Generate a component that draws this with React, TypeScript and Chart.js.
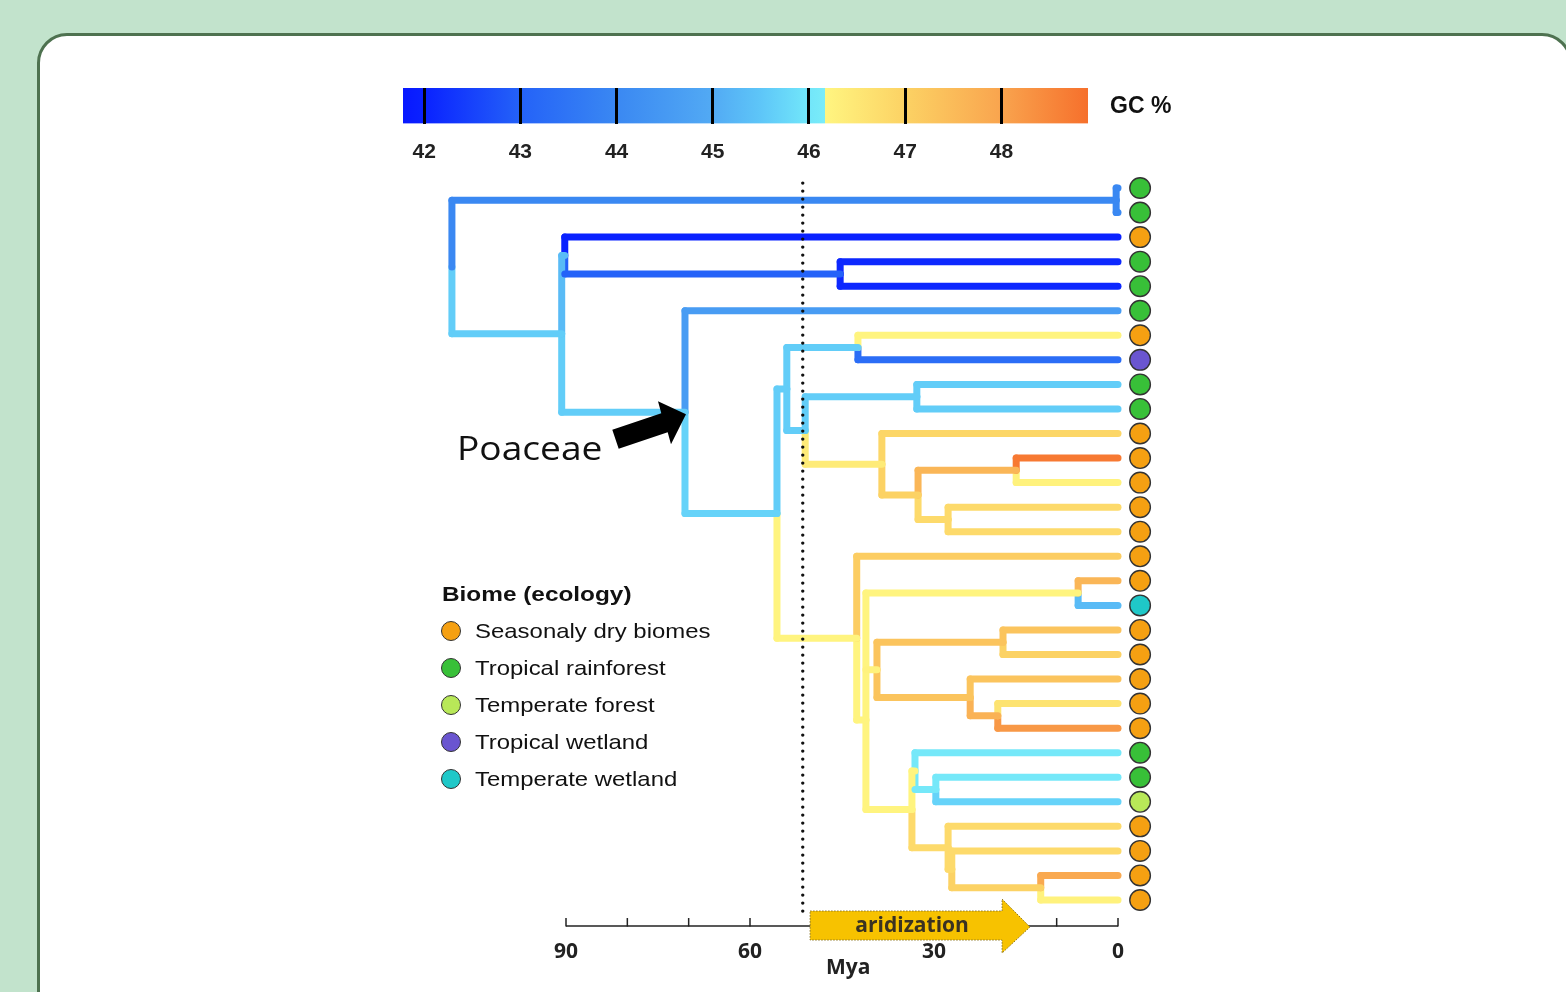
import React, { useEffect, useRef } from "react";
import { Chart, registerables } from "chart.js";

Chart.register(...registerables);

// ---------- colour scale (GC %) ----------
const GC_RANGE = [41.78, 48.9];
const GC_TICKS = [42, 43, 44, 45, 46, 47, 48];
const GC_STOP_VALUES = [41.78, 42, 43, 44, 45, 45.5, 45.95, 46.17, 46.17, 47, 48, 48.9];
const GC_STOP_COLORS = [
  "#0818ff", "#0a22ff", "#2462f8", "#3a88f2", "#52aaf4", "#5ec6f8",
  "#70e4fa", "#7aecf8", "#fff580", "#fcd264", "#f9a44e", "#f6702c",
];

// ---------- time axis ----------
const TIME_TICKS = [90, 80, 70, 60, 50, 40, 30, 20, 10, 0];
const TIME_LABELS = ["90", "", "", "60", "", "", "30", "", "", "0"];
const DOTTED_AGE = 51.4;
const ARIDIZATION_FROM = 50.2;
const ARIDIZATION_HEAD = 18.9;
const ARIDIZATION_TO = 14.35;

// ---------- biomes ----------
const BIOMES = [
  "Seasonaly dry biomes",
  "Tropical rainforest",
  "Temperate forest",
  "Tropical wetland",
  "Temperate wetland",
];
const BIOME_COLORS = ["#f5a012", "#38c038", "#b8e858", "#6a55d0", "#1fc8c8"];

// ---------- tips (top to bottom) ----------
const TIP_BIOME = [1, 1, 0, 1, 1, 1, 0, 3, 1, 1, 0, 0, 0, 0, 0, 0, 0, 4, 0, 0, 0, 0, 0, 1, 1, 2, 0, 0, 0, 0];
const TIP_GC = [
  44.0, 44.0, 42.0, 42.1, 42.1, 44.6, 46.2, 43.3, 45.6, 45.6,
  46.9, 48.75, 46.25, 46.8, 46.8, 47.1, 47.6, 45.3, 47.3, 47.0,
  47.3, 46.6, 48.2, 46.05, 46.05, 45.7, 46.8, 46.8, 47.9, 46.25,
];

// ---------- internal nodes ----------
const NODE_IDS = ["root", "N01", "A", "B", "C", "P", "Q", "R", "T", "U", "V", "W", "X", "Y", "Z", "S", "AA", "AB", "AD", "AE", "AF", "AM", "AC", "AG", "AH", "AI", "AJ", "AK"];
const NODE_AGES = [108.6, 0.3, 90.7, 90.2, 45.3, 70.6, 55.6, 54.0, 42.4, 51.0, 32.8, 38.5, 32.6, 16.6, 27.7, 42.6, 41.1, 6.5, 39.3, 18.75, 24.1, 19.6, 33.6, 33.1, 29.7, 27.7, 27.1, 12.6];
const NODE_CHILDREN = [
  "N01 A", "t0 t1", "B P", "t2 C", "t3 t4", "t5 Q", "R S", "T U", "t6 t7", "V W",
  "t8 t9", "t10 X", "Y Z", "t11 t12", "t13 t14", "t15 AA", "AB AD AC", "t16 t17", "AE AF", "t18 t19",
  "t20 AM", "t21 t22", "AG AI", "t23 AH", "t24 t25", "t26 AJ", "t27 AK", "t28 t29",
];
// GC % on the branch leading into each node
const NODE_GC = [NaN, 44.0, 45.6, 45.3, 43.0, 45.6, 45.7, 45.6, 45.6, 45.6, 45.6, 46.4, 47.0, 47.6, 46.8, 46.2, 46.2, 46.2, 46.25, 47.3, 47.3, 47.7, 46.2, 46.2, 46.05, 46.8, 46.8, 47.0];
const NODE_ROW_OVERRIDE: Record<string, number> = { AA: 21.67 };

const AXIS_ROW = 30.06;
const TIP_MARK_AGE = -3.6;
const MYA_TITLE_AGE = 44;

// ---------- helpers ----------
function hexToRgb(h: string) {
  const n = parseInt(h.slice(1), 16);
  return [(n >> 16) & 255, (n >> 8) & 255, n & 255];
}
function gcColor(v: number) {
  const vs = GC_STOP_VALUES;
  const cs = GC_STOP_COLORS;
  if (v <= vs[0]) return cs[0];
  for (let i = 1; i < vs.length; i++) {
    if (v <= vs[i]) {
      const a = hexToRgb(cs[i - 1]);
      const b = hexToRgb(cs[i]);
      const t = vs[i] === vs[i - 1] ? 1 : (v - vs[i - 1]) / (vs[i] - vs[i - 1]);
      const c = a.map((x, k) => Math.round(x + (b[k] - x) * t));
      return `rgb(${c[0]},${c[1]},${c[2]})`;
    }
  }
  return cs[cs.length - 1];
}

function buildTree() {
  const idx: Record<string, number> = {};
  NODE_IDS.forEach((id, i) => (idx[id] = i));
  const children: Record<string, string[]> = {};
  const parent: Record<string, string> = {};
  NODE_IDS.forEach((id, i) => {
    children[id] = NODE_CHILDREN[i].split(" ");
    children[id].forEach((c) => (parent[c] = id));
  });
  const rowCache: Record<string, number> = {};
  const row = (id: string): number => {
    if (id.startsWith("t")) return parseInt(id.slice(1), 10);
    if (rowCache[id] !== undefined) return rowCache[id];
    const ch = children[id];
    const r = NODE_ROW_OVERRIDE[id] !== undefined
      ? NODE_ROW_OVERRIDE[id]
      : (row(ch[0]) + row(ch[ch.length - 1])) / 2;
    rowCache[id] = r;
    return r;
  };
  const age = (id: string) => (id.startsWith("t") ? 0 : NODE_AGES[idx[id]]);
  const gc = (id: string) => (id.startsWith("t") ? TIP_GC[parseInt(id.slice(1), 10)] : NODE_GC[idx[id]]);

  const segs: { x0: number; y0: number; x1: number; y1: number; color: string }[] = [];
  const all = [...NODE_IDS, ...TIP_GC.map((_, i) => "t" + i)];
  // horizontals
  all.forEach((id) => {
    const p = parent[id];
    if (!p) return;
    segs.push({ x0: age(p), y0: row(id), x1: age(id), y1: row(id), color: gcColor(gc(id)) });
  });
  // verticals
  NODE_IDS.forEach((id) => {
    const ch = children[id];
    const first = ch[0];
    const last = ch[ch.length - 1];
    const a = age(id);
    segs.push({ x0: a, y0: row(first), x1: a, y1: row(id), color: gcColor(gc(first)) });
    segs.push({ x0: a, y0: row(id), x1: a, y1: row(last), color: gcColor(gc(last)) });
  });
  return { segs, row };
}

export default function App() {
  const mainRef = useRef<HTMLCanvasElement>(null);
  const barRef = useRef<HTMLCanvasElement>(null);

  useEffect(() => {
    const { segs, row } = buildTree();

    const treeSets = segs.map((s) => ({
      type: "line" as const,
      data: [{ x: s.x0, y: s.y0 }, { x: s.x1, y: s.y1 }],
      borderColor: s.color,
      borderWidth: 7,
      borderCapStyle: "round" as const,
      borderJoinStyle: "round" as const,
      pointRadius: 0,
      clip: false as const,
    }));

    const dotted = {
      type: "line" as const,
      data: [{ x: DOTTED_AGE, y: -0.2 }, { x: DOTTED_AGE, y: 29.73 }],
      borderColor: "#111",
      borderWidth: 3.4,
      borderDash: [0, 8],
      borderCapStyle: "round" as const,
      pointRadius: 0,
      clip: false as const,
    };

    const tips = {
      type: "line" as const,
      data: TIP_BIOME.map((_, i) => ({ x: TIP_MARK_AGE, y: i })),
      showLine: false,
      pointRadius: 10.3,
      pointBackgroundColor: TIP_BIOME.map((b) => BIOME_COLORS[b]),
      pointBorderColor: "#333",
      pointBorderWidth: 1.4,
      clip: false as const,
    };

    const decor = {
      id: "decor",
      afterDatasetsDraw(chart: any) {
        const { ctx } = chart;
        const x = chart.scales.x;
        const y = chart.scales.y;
        const yAxis = y.getPixelForValue(AXIS_ROW);
        ctx.save();
        // axis line + ticks
        ctx.strokeStyle = "#222";
        ctx.lineWidth = 1.5;
        ctx.beginPath();
        ctx.moveTo(x.getPixelForValue(90), yAxis);
        ctx.lineTo(x.getPixelForValue(0), yAxis);
        ctx.stroke();
        TIME_TICKS.forEach((v) => {
          const px = x.getPixelForValue(v);
          ctx.beginPath();
          ctx.moveTo(px, yAxis + 0.5);
          ctx.lineTo(px, yAxis - 8);
          ctx.stroke();
        });
        // aridization arrow
        const xs = x.getPixelForValue(ARIDIZATION_FROM);
        const xb = x.getPixelForValue(ARIDIZATION_HEAD);
        const xt = x.getPixelForValue(ARIDIZATION_TO);
        ctx.beginPath();
        ctx.moveTo(xs, yAxis - 15);
        ctx.lineTo(xb, yAxis - 15);
        ctx.lineTo(xb, yAxis - 27);
        ctx.lineTo(xt, yAxis + 1);
        ctx.lineTo(xb, yAxis + 27);
        ctx.lineTo(xb, yAxis + 14);
        ctx.lineTo(xs, yAxis + 14);
        ctx.closePath();
        ctx.fillStyle = "#f7c200";
        ctx.fill();
        ctx.setLineDash([1.5, 1.5]);
        ctx.strokeStyle = "#8a7424";
        ctx.lineWidth = 1;
        ctx.stroke();
        ctx.setLineDash([]);
        ctx.fillStyle = "#3a3222";
        ctx.font = 'bold 21px "Open Sans"';
        ctx.textAlign = "center";
        ctx.textBaseline = "middle";
        ctx.fillText("aridization", (xs + xb) / 2 + 6, yAxis);
        // tick labels
        ctx.fillStyle = "#222";
        TIME_TICKS.forEach((v, i) => {
          if (TIME_LABELS[i]) ctx.fillText(TIME_LABELS[i], x.getPixelForValue(v), yAxis + 26);
        });
        ctx.fillText("Mya", x.getPixelForValue(MYA_TITLE_AGE), yAxis + 42);
        // Poaceae arrow pointing at crown node P
        const tx = x.getPixelForValue(NODE_AGES[NODE_IDS.indexOf("P")]) + 1;
        const ty = y.getPixelForValue(row("P")) + 2;
        const pts = [[0, 0], [-28, -13], [-24.7, -1], [-73.7, 15.5], [-67.3, 34.5], [-18.3, 18], [-15, 30]];
        ctx.beginPath();
        pts.forEach(([dx, dy], i) => (i ? ctx.lineTo(tx + dx, ty + dy) : ctx.moveTo(tx + dx, ty + dy)));
        ctx.closePath();
        ctx.fillStyle = "#000";
        ctx.fill();
        ctx.restore();
      },
    };

    const main = new Chart(mainRef.current!, {
      type: "line",
      data: { datasets: [dotted, tips, ...treeSets] as any },
      options: {
        animation: false,
        responsive: false,
        events: [],
        layout: { padding: { left: 566, right: 417.33, top: 175.72, bottom: 79.72 } },
        scales: {
          x: { type: "linear", min: -5, max: 90, reverse: true, display: false },
          y: { type: "linear", min: -0.5, max: 29.5, reverse: true, display: false },
        },
        plugins: { legend: { display: false }, tooltip: { enabled: false } },
      },
      plugins: [decor],
    });

    const bar = new Chart(barRef.current!, {
      type: "bar",
      data: {
        labels: ["GC"],
        datasets: [
          {
            data: [GC_RANGE as any],
            barPercentage: 1,
            categoryPercentage: 1,
            borderWidth: 0,
            backgroundColor: (c: any) => {
              const { chart } = c;
              const area = chart.chartArea;
              if (!area) return "#888";
              const xs = chart.scales.x;
              const x0 = xs.getPixelForValue(GC_RANGE[0]);
              const x1 = xs.getPixelForValue(GC_RANGE[1]);
              const g = chart.ctx.createLinearGradient(x0, 0, x1, 0);
              GC_STOP_VALUES.forEach((v, i) => {
                g.addColorStop((v - GC_RANGE[0]) / (GC_RANGE[1] - GC_RANGE[0]), GC_STOP_COLORS[i]);
              });
              return g;
            },
          },
        ],
      },
      options: {
        animation: false,
        responsive: false,
        events: [],
        indexAxis: "y",
        layout: { padding: { left: 403, right: 478, top: 28, bottom: 11 } },
        scales: {
          x: {
            type: "linear",
            min: GC_RANGE[0],
            max: GC_RANGE[1],
            afterBuildTicks: (s: any) => {
              s.ticks = GC_TICKS.map((v) => ({ value: v }));
            },
            grid: { color: "#000", lineWidth: 3, drawTicks: false, z: 1 },
            border: { display: false },
            ticks: {
              padding: 16,
              color: "#222",
              font: { family: '"Liberation Sans", Arial', size: 21, weight: "bold" },
              callback: (v: any) => String(v),
            },
          },
          y: { display: false },
        },
        plugins: { legend: { display: false }, tooltip: { enabled: false } },
      },
    });

    return () => {
      main.destroy();
      bar.destroy();
    };
  }, []);

  const legendFont = '"Liberation Sans", Arial, sans-serif';

  return (
    <div style={{ position: "fixed", left: 0, top: 0, width: 1566, height: 992, overflow: "hidden", background: "#c2e3cc" }}>
      <div
        style={{
          position: "absolute",
          left: 37,
          top: 33,
          width: 1535,
          height: 1100,
          boxSizing: "border-box",
          background: "#fff",
          border: "3px solid #4e7250",
          borderRadius: 30,
        }}
      />
      <canvas ref={barRef} width={1566} height={110} style={{ position: "absolute", left: 0, top: 60, display: "block" }} />
      <canvas ref={mainRef} width={1566} height={992} style={{ position: "absolute", left: 0, top: 0, display: "block" }} />
      <div
        style={{
          position: "absolute", left: 1110, top: 92, height: 28, lineHeight: "28px",
          font: `bold 23px ${legendFont}`, color: "#111",
        }}
      >
        GC %
      </div>
      <div
        style={{
          position: "absolute", left: 457, top: 426, height: 40, lineHeight: "40px",
          font: '32px "Open Sans", sans-serif', color: "#111",
          transform: "scaleX(1.16)", transformOrigin: "left center", whiteSpace: "nowrap",
        }}
      >
        Poaceae
      </div>
      <div
        style={{
          position: "absolute", left: 442, top: 582, height: 28, lineHeight: "28px",
          font: `bold 21px ${legendFont}`, color: "#111",
          transform: "scaleX(1.16)", transformOrigin: "left center", whiteSpace: "nowrap",
        }}
      >
        Biome (ecology)
      </div>
      {BIOMES.map((b, i) => (
        <div key={b} style={{ position: "absolute", left: 441, top: 617 + i * 37, height: 28, display: "flex", alignItems: "center" }}>
          <div
            style={{
              width: 20, height: 20, borderRadius: "50%", boxSizing: "border-box",
              border: "1.5px solid #333", background: BIOME_COLORS[i],
            }}
          />
          <div
            style={{
              marginLeft: 14, font: `21px ${legendFont}`, color: "#111", lineHeight: "28px",
              transform: "scaleX(1.14)", transformOrigin: "left center", whiteSpace: "nowrap",
            }}
          >
            {b}
          </div>
        </div>
      ))}
    </div>
  );
}
